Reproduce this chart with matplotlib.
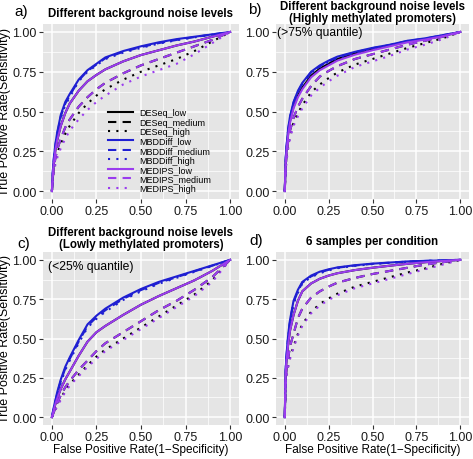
import numpy as np
import matplotlib
matplotlib.use("Agg")
import matplotlib.pyplot as plt

plt.rcParams['font.family'] = ['Liberation Sans', 'DejaVu Sans']

# common false positive rate grid for all curves
fpr = [0, 0.005, 0.01, 0.02, 0.03, 0.05, 0.075, 0.1, 0.15, 0.2, 0.25,
       0.3, 0.4, 0.5, 0.6, 0.7, 0.8, 0.9, 1.0]

levels = ["low", "medium", "high"]
methods = ["DESeq", "MBDDiff", "MEDIPS"]

# panel a) different background noise levels  (rows: low, medium, high)
a_deseq = [
    [0, 0.10, 0.17, 0.26, 0.32, 0.41, 0.49, 0.55, 0.63, 0.69, 0.73, 0.765, 0.815, 0.855, 0.885, 0.915, 0.94, 0.97, 1],
    [0, 0.08, 0.14, 0.21, 0.26, 0.33, 0.40, 0.45, 0.53, 0.59, 0.64, 0.68, 0.74, 0.79, 0.83, 0.87, 0.91, 0.95, 1],
    [0, 0.07, 0.12, 0.19, 0.24, 0.30, 0.36, 0.41, 0.49, 0.55, 0.60, 0.64, 0.70, 0.75, 0.79, 0.83, 0.88, 0.94, 1],
]
a_mbd = [
    [0, 0.12, 0.20, 0.30, 0.37, 0.48, 0.56, 0.61, 0.70, 0.76, 0.80, 0.84, 0.88, 0.91, 0.935, 0.955, 0.97, 0.985, 1],
    [0, 0.12, 0.19, 0.29, 0.36, 0.47, 0.55, 0.60, 0.695, 0.755, 0.795, 0.835, 0.875, 0.905, 0.93, 0.95, 0.968, 0.984, 1],
    [0, 0.11, 0.19, 0.29, 0.35, 0.46, 0.54, 0.59, 0.69, 0.75, 0.79, 0.83, 0.87, 0.90, 0.927, 0.948, 0.966, 0.983, 1],
]
a_medips = [
    [0, 0.10, 0.17, 0.26, 0.32, 0.41, 0.49, 0.55, 0.63, 0.69, 0.73, 0.765, 0.815, 0.855, 0.885, 0.915, 0.94, 0.97, 1],
    [0, 0.08, 0.14, 0.21, 0.26, 0.33, 0.40, 0.45, 0.53, 0.59, 0.64, 0.68, 0.74, 0.79, 0.83, 0.87, 0.91, 0.95, 1],
    [0, 0.06, 0.11, 0.17, 0.21, 0.27, 0.33, 0.38, 0.45, 0.51, 0.56, 0.60, 0.67, 0.72, 0.76, 0.80, 0.86, 0.93, 1],
]

# panel b) highly methylated promoters
b_deseq = [
    [0, 0.18, 0.26, 0.37, 0.44, 0.53, 0.60, 0.65, 0.725, 0.77, 0.80, 0.83, 0.865, 0.89, 0.915, 0.94, 0.955, 0.975, 1],
    [0, 0.15, 0.22, 0.32, 0.38, 0.46, 0.53, 0.58, 0.66, 0.72, 0.755, 0.785, 0.83, 0.86, 0.89, 0.92, 0.945, 0.97, 1],
    [0, 0.14, 0.20, 0.29, 0.35, 0.43, 0.49, 0.54, 0.62, 0.67, 0.71, 0.745, 0.795, 0.83, 0.865, 0.90, 0.93, 0.96, 1],
]
b_mbd = [
    [0, 0.20, 0.28, 0.40, 0.47, 0.56, 0.63, 0.68, 0.75, 0.79, 0.82, 0.845, 0.875, 0.90, 0.92, 0.945, 0.96, 0.98, 1],
    [0, 0.20, 0.28, 0.39, 0.46, 0.555, 0.625, 0.675, 0.745, 0.785, 0.815, 0.84, 0.872, 0.898, 0.918, 0.943, 0.958, 0.979, 1],
    [0, 0.19, 0.27, 0.39, 0.46, 0.55, 0.62, 0.67, 0.74, 0.78, 0.81, 0.835, 0.868, 0.895, 0.915, 0.94, 0.956, 0.978, 1],
]
b_medips = [
    [0, 0.17, 0.25, 0.36, 0.43, 0.52, 0.59, 0.64, 0.715, 0.76, 0.79, 0.82, 0.857, 0.885, 0.91, 0.935, 0.952, 0.973, 1],
    [0, 0.15, 0.22, 0.32, 0.38, 0.46, 0.53, 0.58, 0.66, 0.72, 0.755, 0.785, 0.83, 0.86, 0.89, 0.92, 0.945, 0.97, 1],
    [0, 0.13, 0.19, 0.27, 0.33, 0.41, 0.47, 0.52, 0.60, 0.65, 0.69, 0.725, 0.78, 0.815, 0.85, 0.89, 0.92, 0.955, 1],
]

# panel c) lowly methylated promoters
c_deseq = [
    [0, 0.02, 0.045, 0.085, 0.12, 0.18, 0.24, 0.29, 0.39, 0.48, 0.54, 0.58, 0.65, 0.715, 0.77, 0.82, 0.87, 0.93, 1],
    [0, 0.015, 0.03, 0.06, 0.09, 0.14, 0.19, 0.23, 0.30, 0.36, 0.42, 0.47, 0.54, 0.61, 0.68, 0.74, 0.81, 0.89, 1],
    [0, 0.01, 0.025, 0.05, 0.08, 0.12, 0.17, 0.21, 0.27, 0.33, 0.385, 0.43, 0.50, 0.57, 0.64, 0.71, 0.78, 0.87, 1],
]
c_mbd = [
    [0, 0.03, 0.06, 0.11, 0.16, 0.24, 0.32, 0.38, 0.49, 0.59, 0.645, 0.69, 0.76, 0.815, 0.86, 0.895, 0.93, 0.965, 1],
    [0, 0.03, 0.055, 0.10, 0.15, 0.23, 0.31, 0.37, 0.48, 0.58, 0.635, 0.68, 0.752, 0.808, 0.854, 0.89, 0.927, 0.963, 1],
    [0, 0.025, 0.05, 0.10, 0.14, 0.22, 0.30, 0.36, 0.47, 0.57, 0.625, 0.67, 0.745, 0.80, 0.848, 0.886, 0.924, 0.961, 1],
]
c_medips = [
    [0, 0.02, 0.045, 0.085, 0.12, 0.18, 0.24, 0.29, 0.39, 0.48, 0.54, 0.58, 0.65, 0.715, 0.77, 0.82, 0.87, 0.93, 1],
    [0, 0.015, 0.03, 0.06, 0.09, 0.14, 0.19, 0.23, 0.30, 0.36, 0.42, 0.47, 0.54, 0.61, 0.68, 0.74, 0.81, 0.89, 1],
    [0, 0.01, 0.02, 0.045, 0.07, 0.11, 0.16, 0.20, 0.26, 0.32, 0.37, 0.42, 0.49, 0.56, 0.63, 0.70, 0.77, 0.86, 1],
]

# panel d) 6 samples per condition
d_deseq = [
    [0, 0.28, 0.36, 0.47, 0.55, 0.65, 0.74, 0.80, 0.85, 0.88, 0.90, 0.915, 0.935, 0.95, 0.963, 0.975, 0.985, 0.993, 1],
    [0, 0.24, 0.30, 0.38, 0.45, 0.53, 0.63, 0.69, 0.76, 0.80, 0.83, 0.855, 0.885, 0.91, 0.93, 0.95, 0.97, 0.985, 1],
    [0, 0.22, 0.27, 0.33, 0.38, 0.45, 0.53, 0.59, 0.67, 0.72, 0.755, 0.785, 0.83, 0.86, 0.89, 0.92, 0.945, 0.975, 1],
]
d_mbd = [
    [0, 0.30, 0.40, 0.53, 0.62, 0.74, 0.81, 0.86, 0.90, 0.925, 0.94, 0.952, 0.966, 0.976, 0.983, 0.99, 0.994, 0.997, 1],
    [0, 0.30, 0.39, 0.52, 0.61, 0.73, 0.80, 0.855, 0.895, 0.92, 0.937, 0.95, 0.964, 0.975, 0.982, 0.989, 0.993, 0.997, 1],
    [0, 0.29, 0.38, 0.51, 0.60, 0.72, 0.79, 0.85, 0.89, 0.915, 0.933, 0.947, 0.962, 0.973, 0.981, 0.988, 0.993, 0.997, 1],
]
d_medips = [
    [0, 0.28, 0.36, 0.47, 0.55, 0.65, 0.74, 0.80, 0.85, 0.88, 0.90, 0.915, 0.935, 0.95, 0.963, 0.975, 0.985, 0.993, 1],
    [0, 0.24, 0.30, 0.38, 0.45, 0.53, 0.63, 0.69, 0.76, 0.80, 0.83, 0.855, 0.885, 0.91, 0.93, 0.95, 0.97, 0.985, 1],
    [0, 0.21, 0.26, 0.32, 0.37, 0.44, 0.52, 0.58, 0.66, 0.71, 0.745, 0.775, 0.82, 0.85, 0.88, 0.91, 0.94, 0.97, 1],
]

panels = {
    "a": (a_deseq, a_mbd, a_medips),
    "b": (b_deseq, b_mbd, b_medips),
    "c": (c_deseq, c_mbd, c_medips),
    "d": (d_deseq, d_mbd, d_medips),
}
titles = {
    "a": "Different background noise levels",
    "b": "Different background noise levels\n(Highly methylated promoters)",
    "c": "Different background noise levels\n(Lowly methylated promoters)",
    "d": "6 samples per condition",
}
title_pad = {"a": 5.5, "b": 2.0, "c": 3.5, "d": 6.0}
notes = {"b": (0.2, 1.0, "(>75% quantile)"), "c": (0.22, 0.96, "(<25% quantile)")}

colors = {"DESeq": "black", "MBDDiff": "#1F1FD2", "MEDIPS": "#9A3CEE"}
styles = {"low": "-", "medium": (0, (4, 3)), "high": (0, (1, 3))}

W, H = 473, 460
fig = plt.figure(figsize=(W / 100, H / 100), dpi=100)

# axes boxes in pixels: left, top, right, bottom
boxes = {"a": (43, 25, 239, 200), "b": (276, 25, 469, 200),
         "c": (43, 253, 239, 426), "d": (276, 253, 469, 426)}

ticks = [0, 0.25, 0.5, 0.75, 1.0]
minor = [0.125, 0.375, 0.625, 0.875]
tick_text = ["0.00", "0.25", "0.50", "0.75", "1.00"]

for key, (l, t, r, b) in boxes.items():
    ax = fig.add_axes([l / W, 1 - b / H, (r - l) / W, (b - t) / H])
    ax.set_facecolor("#E5E5E5")
    for s in ax.spines.values():
        s.set_visible(False)
    for v in minor:
        ax.axvline(v, color="white", lw=0.5, zorder=0)
        ax.axhline(v, color="white", lw=0.5, zorder=0)
    for v in ticks:
        ax.axvline(v, color="white", lw=1.1, zorder=0)
        ax.axhline(v, color="white", lw=1.1, zorder=0)

    for m, series in zip(methods, panels[key]):
        for lev, tpr in zip(levels, series):
            ax.plot(fpr, tpr, color=colors[m], linestyle=styles[lev],
                    lw=1.5, label=f"{m}_{lev}")

    ax.set_xlim(-0.05, 1.05)
    ax.set_ylim(-0.05, 1.05)
    ax.set_xticks(ticks)
    ax.set_yticks(ticks)
    ax.set_xticklabels(tick_text)
    ax.set_yticklabels(tick_text)
    ax.tick_params(labelsize=9, length=3, width=0.8, color="#333333",
                   labelcolor="#1a1a1a", pad=1.5)
    ax.set_title(titles[key], fontsize=8.3, fontweight="bold",
                 pad=title_pad[key], linespacing=1.0)
    if key in ("a", "c"):
        ax.set_ylabel("True Positive Rate(Sensitivity)", fontsize=9,
                      labelpad=1)
    if key in ("c", "d"):
        ax.set_xlabel("False Positive Rate(1\u2212Specificity)", fontsize=8.5,
                      labelpad=0)
    if key in notes:
        nx, ny, txt = notes[key]
        ax.text(nx, ny, txt, fontsize=8.7, ha="center", va="center")
    if key == "a":
        ax.legend(loc="lower left", bbox_to_anchor=(0.33, 0.035), frameon=False,
                  fontsize=6.5, handlelength=2.8, handletextpad=0.7,
                  labelspacing=0.05, borderpad=0, borderaxespad=0)

fig.text(14 / W, 1 - 12 / H, "a)", fontsize=11, va="center")
fig.text(248 / W, 1 - 10 / H, "b)", fontsize=11, va="center")
fig.text(17 / W, 1 - 244 / H, "c)", fontsize=11, va="center")
fig.text(249 / W, 1 - 241 / H, "d)", fontsize=11, va="center")

fig.savefig("out.png", dpi=100)
